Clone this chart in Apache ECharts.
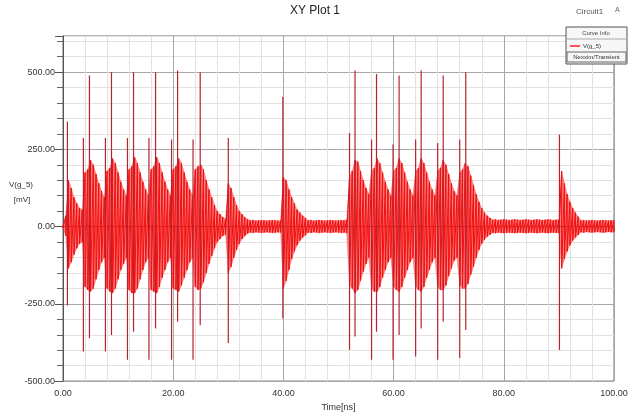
<!DOCTYPE html>
<html><head><meta charset="utf-8">
<script src="https://cdn.jsdelivr.net/npm/echarts@6/dist/echarts.min.js"></script>
<style>html,body{margin:0;padding:0;background:#fff}#c{width:632px;height:417px}</style>
</head><body><div id="c"></div>
<script>
// ---- data ----
const chartTitle = 'XY Plot 1';
const designName = 'Circuit1';
const curveName = 'V(g_5)';
const curveSource = 'Nexxim/Transient';
const xName = 'Time[ns]';
const yNameLines = ['V(g_5)', '[mV]'];
const xTicks = [0, 20, 40, 60, 80, 100];
const yTicks = [-500, -250, 0, 250, 500];

// envelope of the dense oscillation, sampled every 0.5 ns from 0 to 100 ns
const timeStart = 0;
const timeStep = 0.5;
const upperEnv = [
  5, 35, 150, 125, 95, 75, 60, 55,
  175, 185, 215, 200, 170, 140, 115, 95,
  180, 190, 220, 205, 175, 145, 120, 100,
  185, 195, 225, 205, 175, 145, 120, 100,
  185, 195, 225, 205, 175, 145, 120, 100,
  185, 195, 220, 205, 175, 145, 120, 100,
  185, 195, 200, 185, 150, 120, 95, 70, 50, 40, 30, 25,
  140, 125, 95, 70, 50, 40, 30, 24,
  20, 21, 19, 20, 21, 20, 19, 20, 21, 20, 19, 20,
  160, 150, 120, 95, 75, 55, 45, 35, 28,
  20, 21, 19, 20, 21, 20, 19, 20, 21, 20, 19, 20, 21, 20, 22,
  160, 180, 215, 210, 180, 150, 125, 105,
  180, 190, 220, 205, 175, 145, 120, 100,
  180, 190, 220, 205, 175, 145, 120, 100,
  180, 190, 220, 205, 175, 145, 120, 100,
  180, 190, 215, 200, 170, 140, 115, 100,
  175, 185, 205, 195, 165, 135, 105, 80, 60, 45, 35, 28,
  22, 23, 21, 22, 23, 22, 21, 22, 23, 22, 21, 22, 23, 22, 21, 22, 23, 22, 21, 22, 23, 22, 21, 22, 22,
  180, 140, 105, 80, 60, 45, 32,
  20, 21, 19, 20, 21, 20, 19, 20, 21, 20, 19, 20, 20
];
const lowerEnv = [
  -5, -30, -135, -115, -90, -70, -55, -50,
  -195, -205, -210, -200, -170, -140, -115, -100,
  -200, -210, -215, -200, -170, -140, -120, -100,
  -205, -215, -215, -200, -170, -140, -115, -100,
  -205, -210, -215, -195, -165, -140, -115, -100,
  -200, -205, -210, -190, -165, -140, -115, -100,
  -195, -205, -200, -180, -150, -120, -95, -70, -50, -40, -30, -25,
  -150, -130, -100, -75, -55, -40, -30, -22,
  -19, -20, -18, -19, -20, -19, -18, -19, -20, -19, -18, -19,
  -200, -175, -140, -105, -80, -60, -45, -35, -28,
  -19, -20, -18, -19, -20, -19, -18, -19, -20, -19, -18, -19, -20, -19, -21,
  -190, -200, -215, -205, -175, -145, -120, -100,
  -200, -210, -210, -195, -165, -140, -115, -100,
  -195, -205, -210, -195, -165, -140, -115, -100,
  -195, -205, -210, -195, -165, -140, -115, -100,
  -195, -205, -205, -190, -160, -135, -110, -100,
  -190, -200, -200, -185, -155, -130, -100, -75, -55, -42, -32, -26,
  -20, -21, -19, -20, -21, -20, -19, -20, -21, -20, -19, -20, -21, -20, -19, -20, -21, -20, -19, -20, -21, -20, -19, -20, -20,
  -135, -105, -80, -60, -45, -35, -27,
  -18, -19, -17, -18, -19, -18, -17, -18, -19, -18, -17, -18, -18
];

// individual tall spikes (time ns, max mV, min mV)
const spikeTimes = [0.8, 3.7, 4.8, 7.7, 8.8, 11.7, 12.8, 15.6, 16.8, 19.7, 20.8, 23.6, 24.9,
  30.0, 39.9, 52.0, 53.0, 56.0, 56.9, 59.9, 61.0, 64.0, 65.0, 68.0, 69.0, 72.0, 73.1, 90.1];
const spikeHigh = [340, 287, 489, 287, 500, 287, 500, 287, 500, 282, 505, 282, 500,
  287, 420, 303, 505, 282, 494, 266, 489, 282, 505, 271, 489, 282, 500, 298];
const spikeLow = [-255, -404, -361, -404, -351, -431, -340, -431, -330, -431, -308, -431, -319,
  -377, -297, -399, -356, -431, -340, -431, -351, -420, -330, -431, -308, -425, -335, -399];

// ---- build series data ----
const times = upperEnv.map((u, i) => timeStart + i * timeStep);
const wave = [];
times.forEach((t, i) => {
  wave.push([t, upperEnv[i]]);
  wave.push([t, lowerEnv[i]]);
});
const bandSegs = [];
for (let i = 0; i < times.length - 1; i++) {
  bandSegs.push([times[i], upperEnv[i], lowerEnv[i], times[i + 1], upperEnv[i + 1], lowerEnv[i + 1]]);
}
const spikes = spikeTimes.map((t, i) => [t, spikeHigh[i], spikeLow[i]]);

const FONT = '"Liberation Sans", Arial, sans-serif';
const chart = echarts.init(document.getElementById('c'), null, {renderer: 'canvas'});
const yMax = 617;
chart.setOption({
  animation: false,
  backgroundColor: '#ffffff',
  grid: {left: 63, right: 18, top: 36, bottom: 28, show: true, borderColor: '#6a6a6a', borderWidth: 1, containLabel: false},
  xAxis: {
    type: 'value', min: xTicks[0], max: xTicks[xTicks.length - 1], interval: 20,
    axisLine: {lineStyle: {color: '#555', width: 1}},
    axisTick: {show: true, length: 4, lineStyle: {color: '#555'}},
    minorTick: {show: true, splitNumber: 5, length: 4, lineStyle: {color: '#666'}},
    splitLine: {show: true, lineStyle: {color: '#a8a8a8', width: 1}},
    minorSplitLine: {show: true, lineStyle: {color: '#e2e2e2', width: 1}},
    axisLabel: {formatter: v => v.toFixed(2), color: '#333', fontSize: 9, fontFamily: FONT, margin: 8},
    name: xName, nameLocation: 'middle', nameGap: 19,
    nameTextStyle: {color: '#333', fontSize: 9, fontFamily: FONT}
  },
  yAxis: [
    {
      type: 'value', min: yTicks[0], max: yMax, interval: 50,
      axisLine: {show: true, lineStyle: {color: '#555', width: 1}},
      axisTick: {show: true, length: 6, lineStyle: {color: '#666'}},
      axisLabel: {show: false},
      splitLine: {show: true, lineStyle: {color: ['#a8a8a8', '#e2e2e2', '#e2e2e2', '#e2e2e2', '#e2e2e2'], width: 1}}
    },
    {
      type: 'value', min: yTicks[0], max: yMax, interval: 250, position: 'left',
      axisLine: {show: false},
      axisTick: {show: true, length: 8, lineStyle: {color: '#555'}},
      splitLine: {show: false},
      axisLabel: {formatter: v => yTicks.includes(v) ? v.toFixed(2) : '', color: '#333', fontSize: 9, fontFamily: FONT, margin: 8}
    }
  ],
  series: [
    {
      type: 'custom', data: bandSegs, xAxisIndex: 0, yAxisIndex: 0, silent: true, z: 2,
      encode: {x: [0, 3], y: [1, 2, 4, 5]},
      renderItem: (params, api) => {
        const a = api.coord([api.value(0), api.value(1)]);
        const b = api.coord([api.value(3), api.value(4)]);
        const c = api.coord([api.value(3), api.value(5)]);
        const d = api.coord([api.value(0), api.value(2)]);
        return {type: 'polygon', shape: {points: [a, b, c, d]},
          style: {fill: 'rgba(255,50,50,0.6)', stroke: 'rgba(255,50,50,0.6)', lineWidth: 0.5}};
      }
    },
    {
      type: 'line', data: wave, xAxisIndex: 0, yAxisIndex: 0, showSymbol: false, symbol: 'none',
      silent: true, lineStyle: {color: '#f01010', width: 1}, z: 3
    },
    {
      type: 'custom', data: spikes, xAxisIndex: 0, yAxisIndex: 0, silent: true, z: 4,
      encode: {x: 0, y: [1, 2]},
      renderItem: (params, api) => {
        const p1 = api.coord([api.value(0), api.value(1)]);
        const p2 = api.coord([api.value(0), api.value(2)]);
        return {type: 'line', shape: {x1: p1[0], y1: p1[1], x2: p2[0], y2: p2[1]},
          style: {stroke: '#b82230', lineWidth: 1.2}};
      }
    }
  ],
  graphic: [
    {type: 'text', left: 290, top: 5, style: {text: chartTitle, fill: '#222', font: '12px ' + FONT}},
    {type: 'text', left: 576, top: 8, style: {text: designName, fill: '#555', font: '8px ' + FONT}},
    {type: 'text', left: 615, top: 7, style: {text: 'A', fill: '#666', font: '7px ' + FONT}},
    {type: 'rect', shape: {x: 566, y: 27, width: 61, height: 37}, style: {fill: '#f7f7f7', stroke: '#555', lineWidth: 1}, z: 10},
    {type: 'text', x: 596, y: 33, z: 11, style: {text: 'Curve Info', fill: '#444', font: '6px ' + FONT, align: 'center', verticalAlign: 'middle'}},
    {type: 'line', shape: {x1: 567, y1: 39, x2: 626, y2: 39}, style: {stroke: '#aaa', lineWidth: 1}, z: 11},
    {type: 'line', shape: {x1: 570, y1: 46, x2: 580, y2: 46}, style: {stroke: '#ff2020', lineWidth: 1.5}, z: 11},
    {type: 'text', x: 592, y: 46, z: 11, style: {text: curveName, fill: '#333', font: '6px ' + FONT, align: 'center', verticalAlign: 'middle'}},
    {type: 'rect', shape: {x: 567, y: 52, width: 59, height: 10}, style: {fill: 'none', stroke: '#666', lineWidth: 1}, z: 11},
    {type: 'text', x: 596.5, y: 57, z: 12, style: {text: curveSource, fill: '#333', font: '6px ' + FONT, align: 'center', verticalAlign: 'middle'}},
    {type: 'text', x: 21, y: 185, style: {text: yNameLines[0], fill: '#333', font: '8px ' + FONT, align: 'center', verticalAlign: 'middle'}},
    {type: 'text', x: 22, y: 200, style: {text: yNameLines[1], fill: '#333', font: '8px ' + FONT, align: 'center', verticalAlign: 'middle'}}
  ]
});
</script>
</body></html>
